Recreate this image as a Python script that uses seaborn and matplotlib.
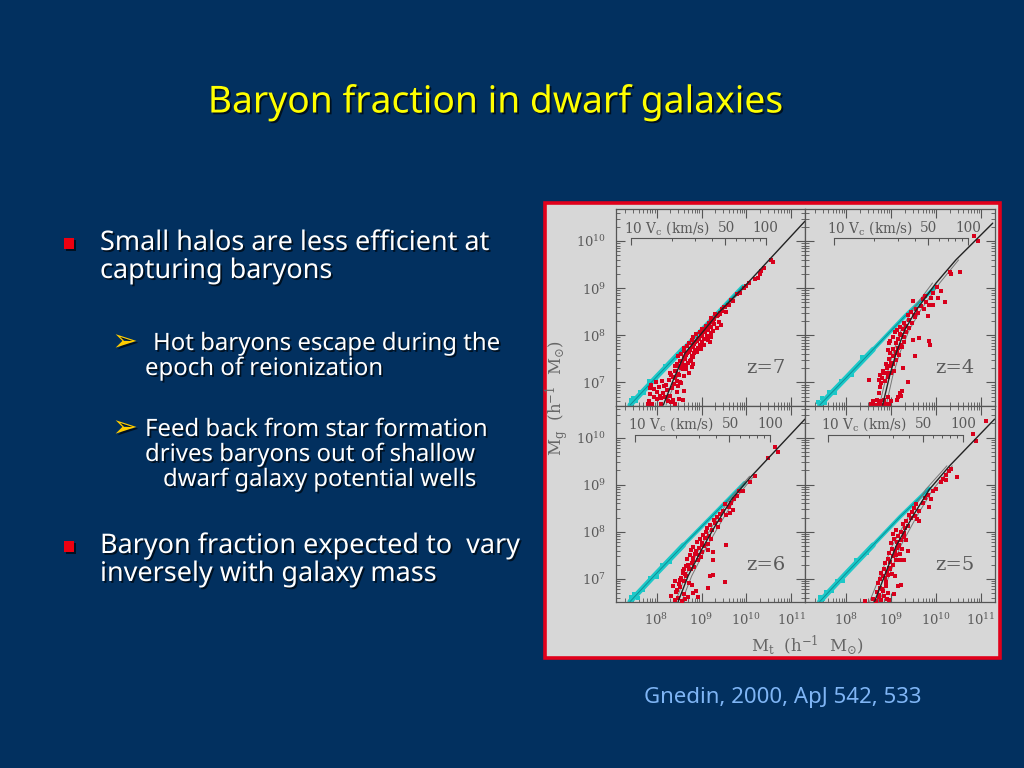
#encoding=utf-8
import matplotlib
matplotlib.use("Agg")
import matplotlib.pyplot as plt
import matplotlib.patheffects as pe
from matplotlib.patches import Rectangle
from matplotlib.ticker import LogLocator, NullFormatter, FixedLocator
import seaborn as sns
import numpy as np
import pandas as pd

# all values are log10 of the solar masses
red_x_z7 = [7.82,7.85,7.90,7.95,7.88,8.00,8.05,8.10,8.15,7.98,
            8.20,8.25,8.30,8.35,8.40,8.45,8.50,8.55,8.60,8.28,
            8.36,8.12,8.22,8.42,8.52,8.18,8.33,8.48,8.58,8.08,
            8.30,8.36,8.42,8.48,8.54,8.60,8.66,8.72,8.78,8.40,
            8.46,8.52,8.58,8.64,8.70,8.76,8.82,8.48,8.54,8.60,
            8.66,8.72,8.78,8.84,8.62,8.68,8.74,8.80,8.86,8.92,
            8.72,8.78,8.84,8.90,8.96,9.02,8.82,8.88,8.94,9.00,
            9.06,9.12,9.18,8.96,9.02,9.08,9.14,9.20,9.26,9.10,
            9.16,9.22,9.28,9.34,9.20,9.26,9.32,9.38,9.44,9.30,
            9.45,9.50,9.55,9.60,9.65,9.70,9.80,9.85,9.95,10.00,
            10.05,10.18,10.25,10.30,10.33,10.40,10.55,10.58,9.36,9.42,
            8.44,8.50,8.56,8.62,8.68,8.74,8.80,8.86,8.92,8.98,
            9.04,9.10,9.16,9.22,9.28,9.34,9.40,9.46,9.52,9.58,
            8.50,8.58,8.66,8.74,8.82,8.90,8.98,9.06,9.14,9.22,
            7.80,7.86,7.94,8.02,8.10,8.16,8.24,8.32,8.38,8.46]
red_y_z7 = [6.60,6.75,6.55,6.85,6.95,6.65,6.90,6.55,6.78,7.00,
            6.95,6.60,6.72,6.88,6.55,6.80,6.65,6.98,6.82,7.05,
            6.62,7.02,6.68,7.10,7.00,6.70,7.15,6.92,6.62,6.72,
            7.20,7.12,7.25,7.18,7.30,7.14,7.28,7.20,7.32,7.35,
            7.40,7.46,7.38,7.50,7.42,7.48,7.40,7.55,7.60,7.66,
            7.58,7.64,7.56,7.62,7.72,7.78,7.70,7.76,7.68,7.74,
            7.84,7.90,7.82,7.88,7.80,7.86,7.96,8.02,7.94,8.00,
            7.92,7.98,7.86,8.08,8.14,8.06,8.12,8.04,8.10,8.20,
            8.26,8.18,8.24,8.16,8.36,8.32,8.40,8.28,8.22,8.46,
            8.55,8.60,8.50,8.65,8.75,8.72,8.88,8.90,9.00,9.05,
            9.10,9.20,9.22,9.30,9.36,9.42,9.60,9.56,8.42,8.48,
            7.24,7.34,7.44,7.52,7.62,7.68,7.80,7.86,7.92,7.98,
            8.06,8.14,8.20,8.28,8.34,8.40,8.46,8.52,8.60,8.64,
            7.16,7.28,7.36,7.46,7.54,7.64,7.70,7.80,7.90,7.96,
            6.54,6.88,6.70,6.80,6.66,6.92,6.84,6.58,6.96,7.04]

red_x_z4 = [8.55,8.60,8.63,8.68,8.72,8.76,8.80,8.85,8.88,8.92,
            8.95,9.00,9.12,9.15,9.20,9.25,9.22,8.50,8.72,8.74,
            8.78,8.72,8.80,8.76,8.85,8.82,8.90,8.93,9.00,9.07,
            9.37,9.26,9.52,9.85,9.87,9.63,9.48,9.81,9.93,10.04,
            10.19,10.11,10.54,10.30,10.34,9.48,10.85,10.93,8.96,8.93,
            8.88,8.95,9.00,9.05,9.10,8.98,9.05,9.12,9.18,9.25,
            8.98,9.04,9.10,9.16,9.22,9.28,9.08,9.14,9.20,9.26,
            9.20,9.28,9.34,9.40,9.46,9.52,9.38,9.44,9.50,9.56,
            9.60,9.66,9.72,9.78,9.84,9.70,9.76,9.88,9.94,10.02,
            8.86,8.92,8.98,9.04,9.10,9.16,9.22,9.28,9.34,9.40]
red_y_z4 = [6.55,6.60,6.53,6.63,6.55,6.60,6.53,6.62,6.55,6.68,
            6.55,6.60,6.62,6.70,6.78,6.82,6.72,7.05,6.78,6.90,
            6.98,7.05,7.10,7.15,7.20,7.25,7.30,7.12,7.20,7.25,
            7.01,7.30,7.55,7.87,7.80,7.94,7.91,8.40,8.64,8.79,
            8.70,8.95,9.34,9.35,9.30,8.72,10.10,10.00,7.83,7.69,
            7.40,7.50,7.42,7.55,7.48,7.62,7.70,7.64,7.58,7.75,
            7.88,7.96,7.84,7.92,8.00,7.86,8.06,8.12,8.02,8.14,
            8.18,8.26,8.20,8.32,8.26,8.38,8.44,8.50,8.42,8.56,
            8.48,8.62,8.56,8.70,8.64,8.78,8.84,8.80,8.90,9.02,
            7.04,7.20,7.34,7.40,7.62,7.72,7.80,7.96,8.08,8.16]

red_x_z6 = [8.33,8.37,8.40,8.44,8.48,8.52,8.56,8.60,8.64,8.70,
            8.80,8.88,8.92,8.42,8.50,8.55,8.62,8.58,8.66,8.72,
            8.78,9.52,9.15,9.26,9.19,9.54,9.70,9.63,9.26,9.26,
            9.15,10.19,9.93,10.48,10.63,10.70,8.60,8.66,8.72,8.78,
            8.84,8.68,8.74,8.80,8.86,8.92,8.98,8.76,8.82,8.88,
            8.94,9.00,9.06,8.90,8.96,9.02,9.08,9.14,9.04,9.10,
            9.16,9.22,9.12,9.18,9.24,9.30,9.36,9.28,9.34,9.40,
            9.42,9.48,9.54,9.60,9.52,9.66,9.72,9.78,9.84,10.08,
            8.46,8.52,8.58,8.64,8.70,8.76,8.82,8.88,8.94,9.00]
red_y_z6 = [6.63,6.84,6.55,6.72,6.60,6.82,6.54,6.68,6.58,6.62,
            6.70,6.75,6.62,6.95,6.90,7.02,6.96,7.12,7.06,6.92,
            6.88,6.93,6.81,7.09,7.06,7.72,8.46,8.40,7.41,7.57,
            7.62,9.18,8.87,9.57,9.79,9.70,7.20,7.28,7.22,7.34,
            7.26,7.42,7.50,7.44,7.52,7.40,7.46,7.62,7.68,7.60,
            7.66,7.58,7.70,7.78,7.84,7.76,7.86,7.74,7.94,8.00,
            7.92,7.84,8.08,8.14,8.04,8.18,8.10,8.26,8.32,8.24,
            8.38,8.44,8.36,8.52,8.58,8.62,8.70,8.76,8.86,9.05,
            6.76,6.98,7.16,7.10,7.30,7.20,7.40,7.54,7.50,7.72]

red_x_z5 = [8.41,8.60,8.66,8.72,8.78,8.84,8.90,8.96,8.68,8.74,
            8.82,8.88,8.94,8.70,8.76,8.82,8.88,9.07,9.22,9.15,
            8.78,8.84,8.90,8.96,9.02,9.08,9.19,9.28,9.37,9.63,
            9.85,10.22,10.47,10.81,10.89,11.11,8.86,8.92,8.98,9.04,
            9.10,8.96,9.02,9.08,9.14,9.20,9.00,9.06,9.12,9.18,
            9.24,9.04,9.10,9.16,9.22,9.28,9.34,9.30,9.26,9.32,
            9.38,9.44,9.40,9.46,9.52,9.58,9.50,9.56,9.62,9.70,
            9.76,9.82,9.88,9.94,10.00,10.10,10.16,10.22,10.28,10.34,
            8.72,8.80,8.86,8.92,8.98,9.04,9.10,9.16,9.22,9.28]
red_y_z5 = [6.54,6.58,6.54,6.62,6.56,6.64,6.58,6.55,6.72,6.80,
            6.74,6.84,6.70,6.92,7.00,7.06,6.94,6.67,6.88,6.84,
            7.12,7.20,7.14,7.24,7.10,7.06,7.41,7.40,7.59,8.23,
            8.53,9.09,9.17,10.07,9.93,10.35,7.34,7.42,7.36,7.48,
            7.40,7.56,7.64,7.58,7.66,7.52,7.76,7.84,7.78,7.72,
            7.64,7.96,8.04,7.92,8.00,7.88,7.82,8.08,8.16,8.22,
            8.12,8.30,8.36,8.42,8.34,8.28,8.50,8.58,8.44,8.62,
            8.72,8.78,8.70,8.86,8.90,9.06,9.12,9.20,9.28,9.34,
            6.66,6.78,7.02,7.08,7.22,7.30,7.50,7.70,7.82,7.98]

curve_x_z7 = [8.15,8.37,8.63,9.00,9.37,9.96,11.30]
curve_y_z7 = [6.52,7.05,7.62,8.04,8.47,9.04,10.42]
curve_x_z4 = [8.81,8.96,9.11,9.30,9.56,10.00,10.44,11.26]
curve_y_z4 = [6.52,7.12,7.62,8.11,8.54,9.11,9.60,10.38]
curve_x_z6 = [8.48,8.70,9.00,9.30,9.67,10.11,11.30]
curve_y_z6 = [6.52,7.06,7.62,8.12,8.69,9.18,10.39]
curve_x_z5 = [8.63,8.85,9.11,9.48,9.85,10.30,11.30]
curve_y_z5 = [6.52,7.06,7.70,8.33,8.90,9.40,10.39]

# the thin grey curves on each side of the black one
side_x_z7 = [8.21,8.43,8.69,9.05,9.41,9.98]
side_y_z7 = [6.52,7.05,7.62,8.04,8.47,9.04]
side_x_z4 = [8.89,9.03,9.19,9.40,9.66,10.08,10.50]
side_y_z4 = [6.52,7.12,7.62,8.11,8.54,9.11,9.60]
side2_x_z4 = [8.74,8.89,9.04,9.22,9.47,9.92]
side2_y_z4 = [6.52,7.12,7.62,8.11,8.54,9.11]
side_x_z6 = [8.56,8.78,9.08,9.38,9.74,10.16]
side_y_z6 = [6.52,7.06,7.62,8.12,8.69,9.18]
side2_x_z6 = [8.42,8.64,8.94,9.24,9.62,10.07]
side2_y_z6 = [6.52,7.06,7.62,8.12,8.69,9.18]
side_x_z5 = [8.74,8.95,9.21,9.57,9.93,10.36]
side_y_z5 = [6.52,7.06,7.70,8.33,8.90,9.40]
side2_x_z5 = [8.52,8.75,9.02,9.39,9.77,10.24]
side2_y_z5 = [6.52,7.06,7.70,8.33,8.90,9.40]

cyan_x_z7 = [7.41,8.00,8.60,9.20,9.92]
cyan_y_z7 = [6.52,7.12,7.72,8.32,9.04]
cyan_x_z4 = [7.41,8.00,8.60,9.30,10.00]
cyan_y_z4 = [6.52,7.10,7.70,8.40,9.04]
cyan_x_z6 = [7.41,8.00,8.60,9.20,9.96]
cyan_y_z6 = [6.52,7.12,7.72,8.30,9.04]
cyan_x_z5 = [7.41,8.00,8.60,9.20,9.85]
cyan_y_z5 = [6.52,7.12,7.72,8.32,8.92]

bits_x_z7 = [7.42,7.48,7.54,7.62,7.72,7.84,7.98,8.18]
bits_y_z7 = [6.62,6.66,6.60,6.80,6.78,7.02,7.06,7.34]
bits_x_z4 = [7.38,7.46,7.52,7.62,7.74,7.88,8.12,8.36]
bits_y_z4 = [6.58,6.66,6.56,6.80,6.78,7.04,7.16,7.54]
bits_x_z6 = [7.44,7.50,7.58,7.70,7.85,8.00,8.12,8.30]
bits_y_z6 = [6.62,6.68,6.60,6.76,7.02,7.04,7.30,7.36]
bits_x_z5 = [7.42,7.48,7.56,7.68,7.80,7.92,8.22,8.46]
bits_y_z5 = [6.62,6.58,6.72,6.74,6.96,6.96,7.40,7.54]

# log10 of Mt where the Vc bracket starts (Vc = 10 km/s)
vc10_log = {"z=7": 7.43, "z=4": 7.72, "z=6": 7.52, "z=5": 7.60}
x_ticks = [1e8, 1e9, 1e10, 1e11]
y_ticks = [1e7, 1e8, 1e9, 1e10]
x_tick_labels = ["$\\mathregular{10^{8}}$", "$\\mathregular{10^{9}}$",
                 "$\\mathregular{10^{10}}$", "$\\mathregular{10^{11}}$"]
y_tick_labels = ["$\\mathregular{10^{7}}$", "$\\mathregular{10^{8}}$",
                 "$\\mathregular{10^{9}}$", "$\\mathregular{10^{10}}$"]

panels = [
    ("z=7", red_x_z7, red_y_z7, curve_x_z7, curve_y_z7, [(side_x_z7, side_y_z7)],
     cyan_x_z7, cyan_y_z7, bits_x_z7, bits_y_z7),
    ("z=4", red_x_z4, red_y_z4, curve_x_z4, curve_y_z4, [(side_x_z4, side_y_z4), (side2_x_z4, side2_y_z4)],
     cyan_x_z4, cyan_y_z4, bits_x_z4, bits_y_z4),
    ("z=6", red_x_z6, red_y_z6, curve_x_z6, curve_y_z6, [(side_x_z6, side_y_z6), (side2_x_z6, side2_y_z6)],
     cyan_x_z6, cyan_y_z6, bits_x_z6, bits_y_z6),
    ("z=5", red_x_z5, red_y_z5, curve_x_z5, curve_y_z5, [(side_x_z5, side_y_z5), (side2_x_z5, side2_y_z5)],
     cyan_x_z5, cyan_y_z5, bits_x_z5, bits_y_z5),
]

BG = "#02305f"
GREY = "#d7d7d7"
INK = "#5a5a5a"
SANS = "Noto Sans"

sns.set_style("ticks")
plt.rcParams["font.family"] = ["DejaVu Serif"]
plt.rcParams["mathtext.fontset"] = "dejavuserif"

fig, axes = plt.subplots(2, 2, figsize=(10.24, 7.68), dpi=100, sharex=True, sharey=True)
fig.patch.set_facecolor(BG)
fig.subplots_adjust(left=615.7/1024, right=995/1024, top=1-209/768, bottom=1-602/768,
                    wspace=0, hspace=0)

fig.add_artist(Rectangle((545/1024, 1-658/768), 455/1024, 455/768, transform=fig.transFigure,
                         facecolor=GREY, edgecolor="#e0001b", linewidth=2.6, zorder=-1))


def logframe(xs, ys):
    return pd.DataFrame({"x": np.power(10.0, xs), "y": np.power(10.0, ys)})


def make_funcs(lg):
    # Mt grows as Vc cubed, parent axis is Mt
    def to_vc(m):
        return 10.0*(np.maximum(m, 1e-9)/10**lg)**(1/3.0)

    def to_mt(v):
        return 10**lg*(np.asarray(v)/10.0)**3
    return to_vc, to_mt


for ax, (name, rx, ry, cx, cy, sides, bx, by, fx, fy) in zip(axes.flat, panels):
    ax.set_facecolor(GREY)
    ax.set_xscale("log")
    ax.set_yscale("log")
    # cyan first: thick at the low end, thinner further up
    sns.lineplot(data=logframe(bx, by), x="x", y="y", ax=ax, color="#1cc8c8", lw=2.8,
                 sort=False, estimator=None)
    sns.lineplot(data=logframe(bx[:3], by[:3]), x="x", y="y", ax=ax, color="#1cc8c8", lw=3.8,
                 sort=False, estimator=None)
    sns.scatterplot(data=logframe(fx, fy), x="x", y="y", ax=ax, color="#1cc8c8", marker="s",
                    s=5.2, linewidth=0)
    sns.lineplot(data=logframe(bx, by), x="x", y="y", ax=ax, color="#0d8f96", lw=0.7,
                 sort=False, estimator=None)
    for sx, sy in sides:
        sns.lineplot(data=logframe(sx, sy), x="x", y="y", ax=ax, color="#777777", lw=0.7,
                     sort=False, estimator=None, zorder=2.5)
    sns.scatterplot(data=logframe(rx, ry), x="x", y="y", ax=ax, color="#d8001c", marker="s",
                    s=5.3, linewidth=0, zorder=3)
    sns.lineplot(data=logframe(cx, cy), x="x", y="y", ax=ax, color="#222222", lw=1.0,
                 sort=False, estimator=None, zorder=5)

    ax.set_xlim(10**7.09, 10**11.31)
    ax.set_ylim(10**6.51, 10**10.68)
    ax.set_xlabel("")
    ax.set_ylabel("")
    ax.set_xticks(x_ticks)
    ax.set_xticklabels(x_tick_labels, fontsize=9.5, color=INK)
    ax.set_yticks(y_ticks)
    ax.set_yticklabels(y_tick_labels, fontsize=9.5, color=INK)
    ax.xaxis.set_minor_locator(LogLocator(base=10, subs=np.arange(2, 10), numticks=12))
    ax.yaxis.set_minor_locator(LogLocator(base=10, subs=np.arange(2, 10), numticks=12))
    ax.xaxis.set_minor_formatter(NullFormatter())
    ax.yaxis.set_minor_formatter(NullFormatter())
    ax.tick_params(which="major", direction="in", top=True, right=True, length=6.5,
                   width=0.8, color="#555555", pad=7)
    ax.tick_params(which="minor", direction="in", top=True, right=True, length=3.2,
                   width=0.7, color="#666666")
    for sp in ax.spines.values():
        sp.set_color("#555555")
        sp.set_linewidth(0.9)

    # the Vc scale inside each panel
    lg = vc10_log[name]
    sec = ax.secondary_xaxis(0.85, functions=make_funcs(lg))
    sec.xaxis.set_major_locator(FixedLocator([10, 50, 100]))
    sec.xaxis.set_minor_locator(FixedLocator([20, 30, 40, 60, 70, 80, 90]))
    sec.xaxis.set_major_formatter(NullFormatter())
    sec.xaxis.set_minor_formatter(NullFormatter())
    sec.tick_params(which="major", direction="in", length=5, width=0.8, color="#555555")
    sec.tick_params(which="minor", direction="in", length=2.5, width=0.7, color="#555555")
    sec.spines["top"].set_bounds(10, 100)
    sec.spines["top"].set_color("#555555")
    sec.spines["top"].set_linewidth(0.8)

    trans = ax.get_xaxis_transform()
    ax.text(10**(lg+0.8), 0.905, "10 V$_{\\mathregular{c}}$ (km/s)", transform=trans,
            ha="center", va="center", fontsize=9.8, color=INK)
    ax.text(10**(lg+2.12), 0.905, "50", transform=trans, ha="center", va="center",
            fontsize=9.8, color=INK)
    ax.text(10**(lg+3.0), 0.905, "100", transform=trans, ha="center", va="center",
            fontsize=9.8, color=INK)
    ax.text(0.893, 0.19, name, transform=ax.transAxes, ha="right", va="center",
            fontsize=14, color=INK)

fig.text(557/1024, 1-398/768, "M$_{\\mathregular{g}}$  (h$^{\\mathregular{-1}}$  M$_{\\odot}$)",
         rotation=90, ha="center", va="center", fontsize=12, color="#666666")
fig.text(807/1024, 1-645/768, "M$_{\\mathregular{t}}$  (h$^{\\mathregular{-1}}$  M$_{\\odot}$)",
         ha="center", va="center", fontsize=12, color="#666666")

shadow = [pe.SimplePatchShadow(offset=(1.3, -1.3), shadow_rgbFace="#000000", alpha=0.65), pe.Normal()]


def slide_text(x, y, s, size, color="white", family=SANS, ha="left", fx=True):
    t = fig.text(x/1024, 1-y/768, s, fontsize=size, color=color, family=family,
                 ha=ha, va="center")
    if fx:
        t.set_path_effects(shadow)
    return t


slide_text(495, 103, "Baryon fraction in dwarf galaxies", 26.8, color="#ffff00", ha="center")

body = 19.45
sub = 17.25
slide_text(100, 243, "Small halos are less efficient at", body)
slide_text(100, 271, "capturing baryons", body)
slide_text(153, 344, "Hot baryons escape during the", sub)
slide_text(145, 369, "epoch of reionization", sub)
slide_text(145, 430, "Feed back from star formation", sub)
slide_text(145, 455, "drives baryons out of shallow", sub)
slide_text(163, 480, "dwarf galaxy potential wells", sub)
slide_text(100, 546, "Baryon fraction expected to  vary", body)
slide_text(100, 574, "inversely with galaxy mass", body)
slide_text(644, 697, "Gnedin, 2000, ApJ 542, 533", 16, color="#7fb5f5", fx=False)

for yy in (243, 546):
    slide_text(69, yy, "\u25a0", 10, color="#ee0010", family="DejaVu Sans", ha="center")
for yy in (342, 428):
    slide_text(125, yy, "\u27a2", 22, color="#ffcc00", family="DejaVu Sans", ha="center")

fig.savefig("out.png", dpi=100, facecolor=fig.get_facecolor())
